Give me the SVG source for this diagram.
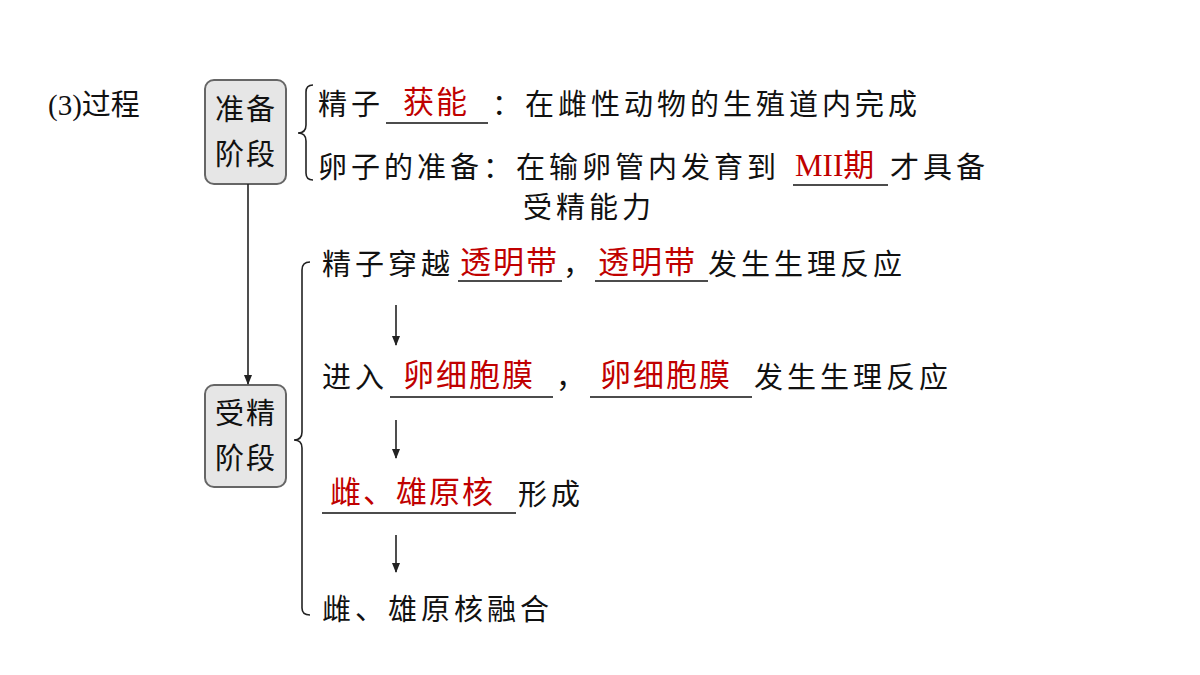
<svg xmlns="http://www.w3.org/2000/svg" width="1200" height="675" viewBox="0 0 1200 675">
<style>
text{font-family:"Liberation Serif","Noto Sans CJK SC",serif;font-size:29px;fill:#111;letter-spacing:4px}
.r{fill:#c00000;font-size:31px;letter-spacing:2px}
.u{stroke:#111;stroke-width:1.5}
.box{fill:#e6e6e6;stroke:#666;stroke-width:2}
.ln{stroke:#222;stroke-width:1.6;fill:none}
</style>
<defs><marker id="ah" markerWidth="10" markerHeight="10" refX="9" refY="5" orient="auto" markerUnits="userSpaceOnUse"><path d="M0,1 L10,5 L0,9 Z" fill="#222"/></marker></defs>
<rect width="1200" height="675" fill="#fff"/>
<text x="48" y="115" style="letter-spacing:0">(3)过程</text>
<g id="n1"><rect class="box" x="205" y="80" width="81" height="104" rx="9"/><text x="215" y="120" style="letter-spacing:2px">准备</text><text x="215" y="165" style="letter-spacing:2px">阶段</text></g>
<g id="n2"><rect class="box" x="205" y="385" width="81" height="102" rx="9"/><text x="215" y="424" style="letter-spacing:2px">受精</text><text x="215" y="469" style="letter-spacing:2px">阶段</text></g>
<g id="connectors">
<line class="ln" x1="248" y1="184" x2="248" y2="384" marker-end="url(#ah)"/>
<path class="ln" d="M313,85 Q306,85 306,92 L306,125 Q306,133 298,133 Q306,133 306,141 L306,173 Q306,180 313,180"/>
<path class="ln" d="M310,262 Q302,262 302,270 L302,432 Q302,440 294,440 Q302,440 302,448 L302,608 Q302,615 310,615"/>
<line class="ln" x1="396" y1="305" x2="396" y2="345" marker-end="url(#ah)"/>
<line class="ln" x1="396" y1="420" x2="396" y2="458" marker-end="url(#ah)"/>
<line class="ln" x1="396" y1="535" x2="396" y2="572" marker-end="url(#ah)"/>
</g>
<g id="t1"><text x="318" y="115">精子</text><text class="r" x="403" y="113">获能</text><line class="u" x1="386" y1="123" x2="488" y2="123"/><text x="492" y="115">：在雌性动物的生殖道内完成</text></g>
<g id="t2"><text x="318" y="178">卵子的准备：在输卵管内发育到</text><text class="r" x="795" y="176" style="letter-spacing:0">MII期</text><line class="u" x1="793" y1="185" x2="888" y2="185"/><text x="890" y="178">才具备</text><text x="523" y="218">受精能力</text></g>
<g id="t3"><text x="322" y="275">精子穿越</text><text class="r" x="460" y="273">透明带</text><line class="u" x1="458" y1="281" x2="562" y2="281"/><text x="563" y="275">，</text><text class="r" x="598" y="273">透明带</text><line class="u" x1="595" y1="281" x2="708" y2="281"/><text x="708" y="275">发生生理反应</text></g>
<g id="t4"><text x="322" y="388">进入</text><text class="r" x="403" y="386">卵细胞膜</text><line class="u" x1="390" y1="397" x2="553" y2="397"/><text x="556" y="388">，</text><text class="r" x="600" y="386">卵细胞膜</text><line class="u" x1="590" y1="397" x2="752" y2="397"/><text x="754" y="388">发生生理反应</text></g>
<g id="t5"><text class="r" x="330" y="503">雌、雄原核</text><line class="u" x1="322" y1="513" x2="516" y2="513"/><text x="518" y="505">形成</text></g>
<g id="t6"><text x="322" y="620">雌、雄原核融合</text></g>
</svg>
